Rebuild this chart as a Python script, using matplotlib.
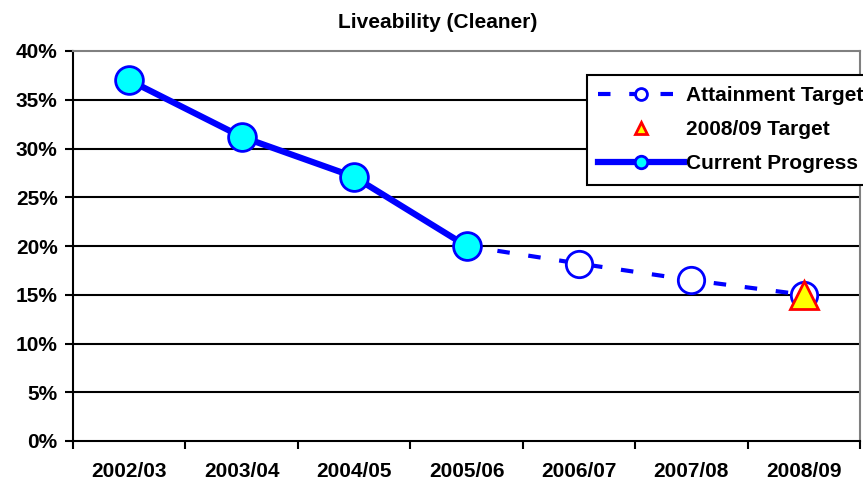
import numpy as np
import matplotlib
matplotlib.use("Agg")
import matplotlib.pyplot as plt
from matplotlib.ticker import FixedLocator, FuncFormatter

plt.rcParams['font.family'] = ['Liberation Sans', 'DejaVu Sans']
plt.rcParams['font.weight'] = 'bold'

# Data
years = ['2002/03', '2003/04', '2004/05', '2005/06', '2006/07', '2007/08', '2008/09']
progress = [37.0, 31.2, 27.1, 20.0]
target_years = ['2005/06', '2006/07', '2007/08', '2008/09']
attainment = [20.0, 18.2, 16.5, 15.0]
final_target = 15.0

x = np.arange(len(years))
x_target = [years.index(y) for y in target_years]

fig = plt.figure(figsize=(8.63, 4.87), dpi=100)
ax = fig.add_axes([73/863, 46/487, 787/863, 390/487])

# Attainment target (dashed, open circles)
ax.plot(x_target, attainment, color='#0000ff', lw=3, dashes=(3, 4.5),
        marker='o', ms=19, mfc='white', mec='#0000ff', mew=2,
        label='Attainment Target', zorder=3)
# 2008/09 target
ax.plot([years.index('2008/09')], [final_target], ls='none', marker='^', ms=20,
        mfc='#ffff00', mec='#ff0000', mew=2, label='2008/09 Target', zorder=5)
# Current progress
ax.plot(x[:len(progress)], progress, color='#0000ff', lw=4.5,
        marker='o', ms=20, mfc='#00ffff', mec='#0000ff', mew=2,
        label='Current Progress', zorder=4)

ax.set_xlim(-0.5, 6.5)
ax.set_ylim(0, 40)
ax.set_yticks(np.arange(0, 41, 5))
ax.yaxis.set_major_formatter(FuncFormatter(lambda v, p: f'{v:.0f}%'))
ax.set_xticks(x)
ax.set_xticklabels(years)
ax.xaxis.set_minor_locator(FixedLocator(np.arange(-0.5, 7, 1)))
ax.tick_params(axis='x', which='major', length=0, pad=15, labelsize=15)
ax.tick_params(axis='x', which='minor', length=6, width=1.5, direction='out')
ax.tick_params(axis='y', length=6, width=1.5, labelsize=15, pad=5)

for v in range(5, 40, 5):
    ax.axhline(v, color='black', lw=1.5, zorder=1)
ax.spines['left'].set_linewidth(1.5)
ax.spines['bottom'].set_linewidth(1.5)
ax.spines['top'].set_color('#808080')
ax.spines['right'].set_color('#808080')
ax.spines['top'].set_linewidth(1.5)
ax.spines['right'].set_linewidth(1.5)

fig.text(438/863, 1 - 22/487, 'Liveability (Cleaner)', ha='center', va='center',
         fontsize=15, fontweight='bold')

leg = ax.legend(loc='upper left', bbox_to_anchor=(587/863, 1 - 75/487),
                bbox_transform=fig.transFigure, fontsize=15, markerscale=0.45,
                handlelength=4.1, handletextpad=0.1, labelspacing=0.72,
                borderaxespad=0, borderpad=0.55, fancybox=False, framealpha=1,
                edgecolor='black')
leg.get_frame().set_linewidth(1.5)

fig.savefig('out.png', dpi=100)
